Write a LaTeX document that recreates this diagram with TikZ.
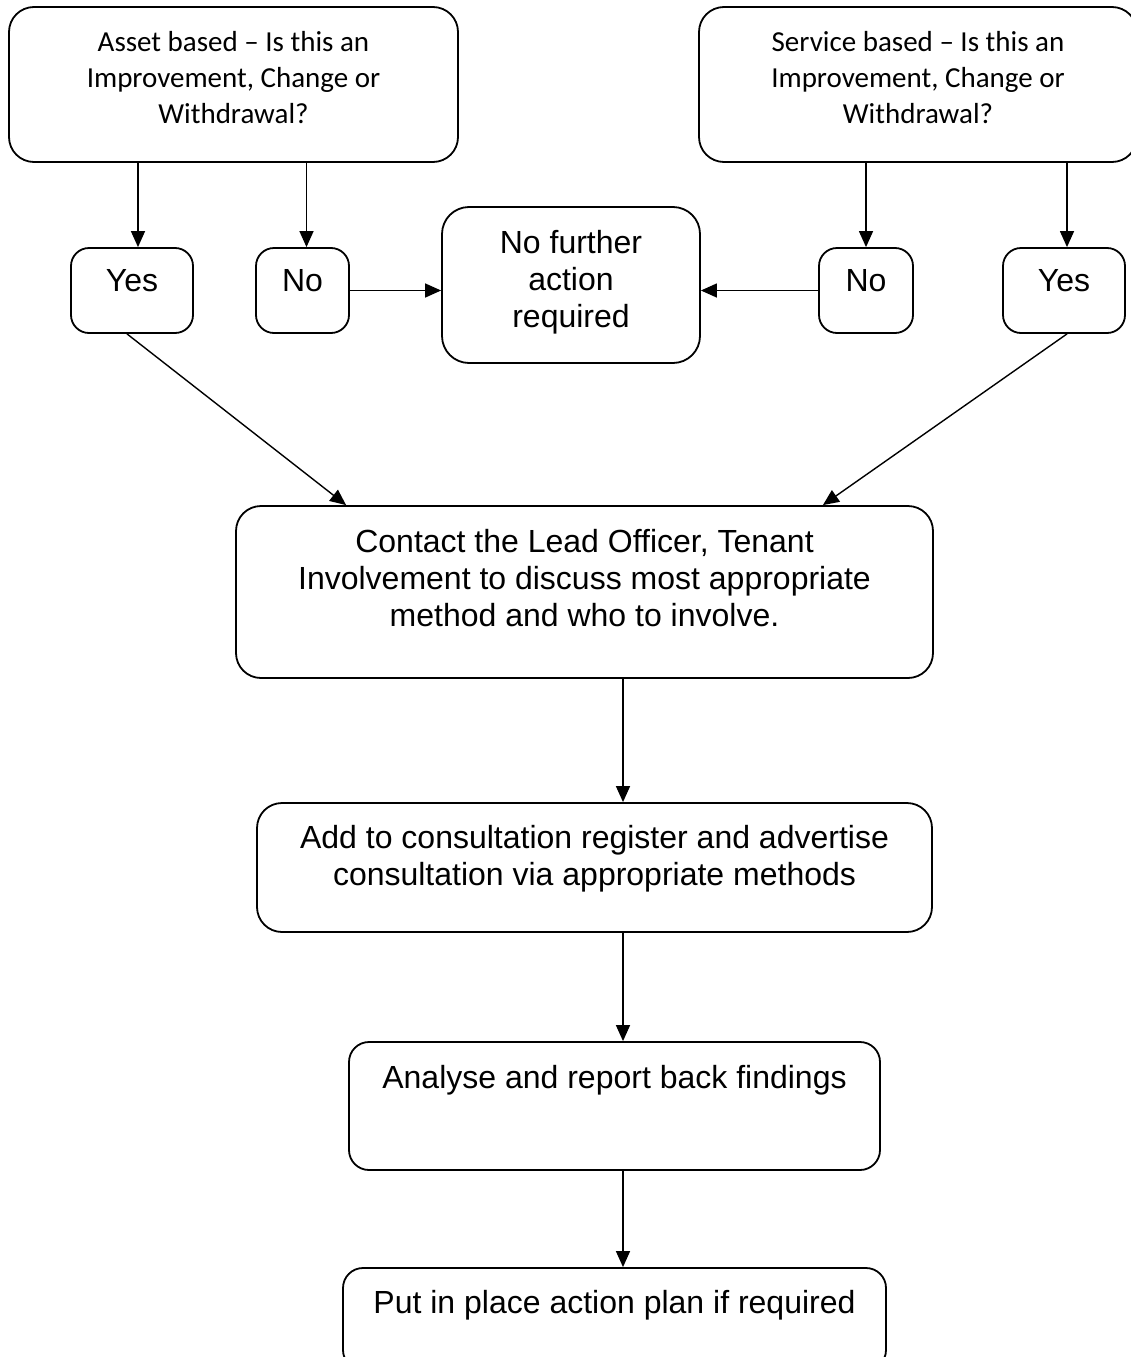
\documentclass[tikz,border=0pt]{standalone}
\usepackage{fontspec}
\setmainfont{Liberation Sans}
\newfontfamily\calibri{Carlito}
\usetikzlibrary{arrows.meta}

\begin{document}
\begin{tikzpicture}[x=1pt,y=-1pt,->,>={Triangle[length=16pt,width=14pt]},line width=1.4pt]
\tikzstyle{box}=[rectangle, draw, line width=1.8pt, rounded corners=25pt, inner sep=0pt]
\tikzstyle{small}=[box, rounded corners=18pt, minimum height=85pt]
\tikzstyle{words}=[anchor=base, align=flush center, inner sep=0pt, text width=680pt,
                   font=\fontsize{32}{37}\selectfont]
\tikzstyle{question}=[words, text width=440pt, font=\calibri\fontsize{29}{36}\selectfont]

\useasboundingbox (0,0) rectangle (1130,1357);

% the two starting questions
\node[box, minimum width=449pt, minimum height=155pt] (asset) at (233.5,84.5) {};
\node[question] (assettext) at ([yshift=-45pt]asset.north) {Asset based – Is this an\\Improvement, Change or\\Withdrawal?};
\node[box, minimum width=438pt, minimum height=155pt] (service) at (918,84.5) {};
\node[question] (servicetext) at ([yshift=-45pt]service.north) {Service based – Is this an\\Improvement, Change or\\Withdrawal?};

% answers
\node[small, minimum width=122pt] (yesL) at (132,290.5) {};
\node[words, text width=120pt] (yesLtext) at ([yshift=-44pt]yesL.north) {Yes};
\node[small, minimum width=93pt] (noL) at (302.5,290.5) {};
\node[words, text width=90pt] (noLtext) at ([yshift=-44pt]noL.north) {No};
\node[small, minimum width=94pt] (noR) at (866,290.5) {};
\node[words, text width=90pt] (noRtext) at ([yshift=-44pt]noR.north) {No};
\node[small, minimum width=122pt] (yesR) at (1064,290.5) {};
\node[words, text width=120pt] (yesRtext) at ([yshift=-44pt]yesR.north) {Yes};

\node[box, rounded corners=27pt, minimum width=258pt, minimum height=156pt] (nfa) at (571,285) {};
\node[words, text width=250pt] (nfatext) at ([yshift=-47pt]nfa.north) {No further\\action\\required};

% the steps
\node[box, minimum width=697pt, minimum height=172pt] (main) at (584.5,592) {};
\node[words] (maintext) at ([yshift=-47pt]main.north) {Contact the Lead Officer, Tenant\\Involvement to discuss most appropriate\\method and who to involve.};
\node[box, minimum width=675pt, minimum height=129pt] (add) at (594.5,867.5) {};
\node[words] (addtext) at ([yshift=-46pt]add.north) {Add to consultation register and advertise\\consultation via appropriate methods};
\node[box, rounded corners=20pt, minimum width=531pt, minimum height=128pt] (analyse) at (614.5,1106) {};
\node[words] (analysetext) at ([yshift=-47pt]analyse.north) {Analyse and report back findings};
\node[box, rounded corners=20pt, minimum width=543pt, minimum height=102pt] (plan) at (614.5,1319) {};
\node[words] (plantext) at ([yshift=-46pt]plan.north) {Put in place action plan if required};

\coordinate (spine) at (623,0);

\path ([xshift=6pt]yesL.north |- asset.south) edge ([xshift=6pt]yesL.north)
      ([xshift=4pt]noL.north |- asset.south) edge ([xshift=4pt]noL.north)
      (noR.north |- service.south) edge (noR.north)
      ([xshift=3pt]yesR.north |- service.south) edge ([xshift=3pt]yesR.north)
      (noL.east) edge (noL.east -| nfa.west)
      (noR.west) edge (noR.west -| nfa.east)
      ([xshift=-5pt]yesL.south) edge ([xshift=111pt]main.north west)
      ([xshift=3pt]yesR.south) edge ([xshift=-111pt]main.north east)
      (main.south -| spine) edge (add.north -| spine)
      (add.south -| spine) edge (analyse.north -| spine)
      (analyse.south -| spine) edge (plan.north -| spine);

\end{tikzpicture}
\end{document}
